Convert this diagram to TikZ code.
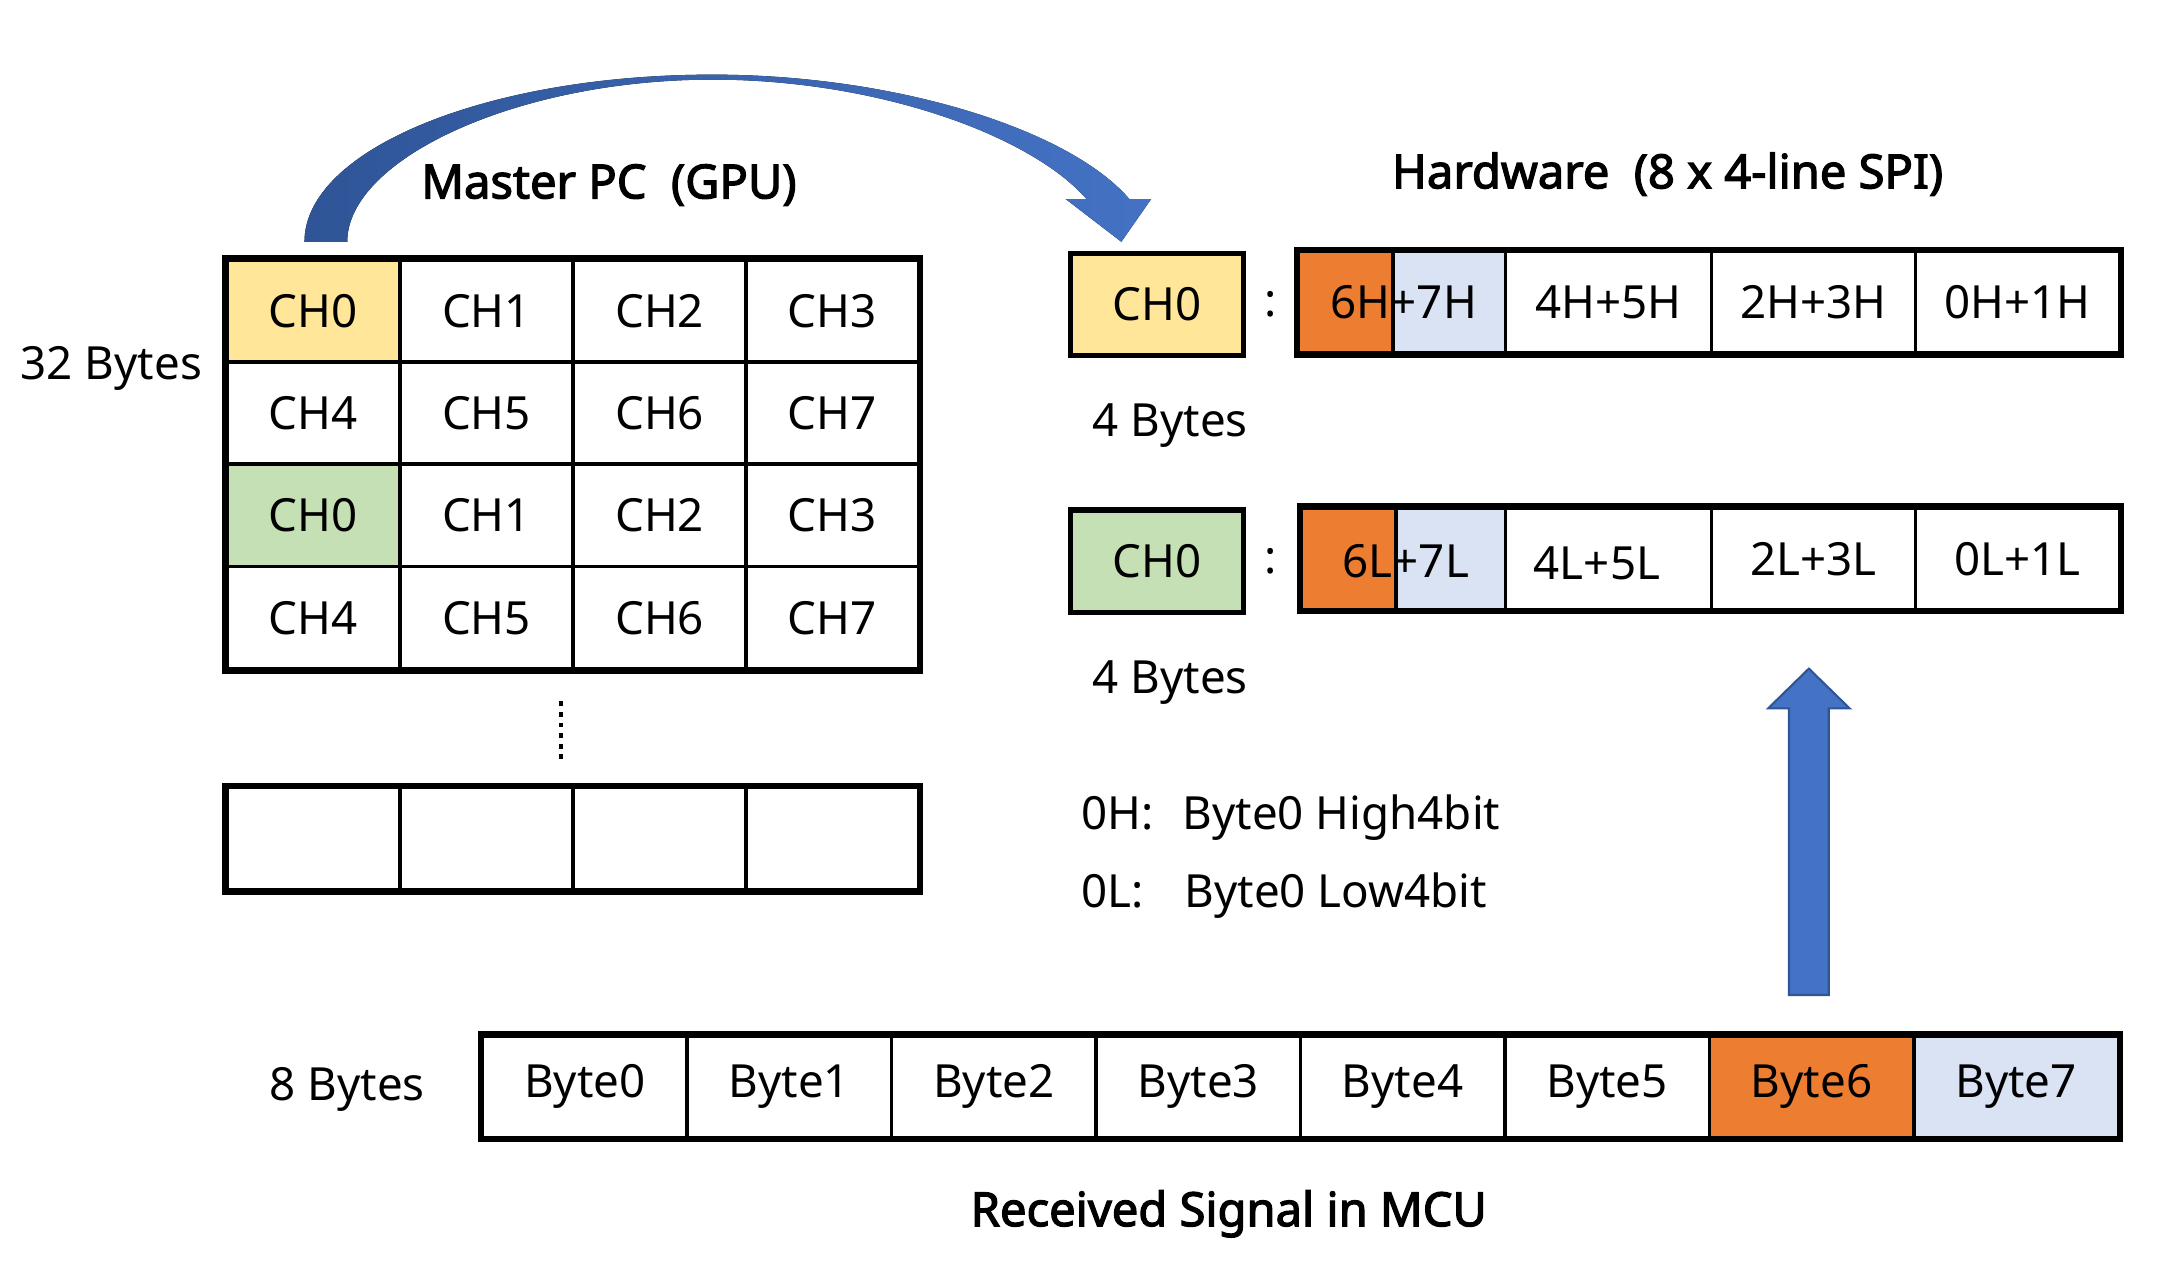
\documentclass[tikz,border=0pt]{standalone}
\usepackage{fontspec}
\setmainfont{Noto Sans}
\newfontfamily\titlefont{Noto Sans}[FakeBold=2.6]
\usepackage{tikz}

\definecolor{chyellow}{HTML}{FFE699}
\definecolor{chgreen}{HTML}{C5E0B4}
\definecolor{hiorange}{HTML}{ED7D31}
\definecolor{loblue}{HTML}{DAE3F3}
\definecolor{arrblue}{HTML}{4472C4}
\definecolor{arrdark}{HTML}{2F5597}

\tikzset{
  cell/.style={draw, line width=1pt, minimum width=1.73cm, minimum height=1.025cm, inner sep=0pt},
  spicell/.style={draw, line width=1pt, minimum height=1.015cm, inner sep=0pt},
  bytecell/.style={draw, line width=1pt, minimum width=2.045cm, minimum height=1.015cm, inner sep=0pt},
  frame/.style={line width=1.8pt},
  title/.style={font=\fontsize{13.4}{16}\titlefont},
}

\begin{document}
\begin{tikzpicture}[x=0.00995cm, y=-0.00995cm, font=\fontsize{13}{15}\selectfont]
      \useasboundingbox (0,0) rectangle (2190,1279);

      % master pc buffer
      \node[title] (mpc) at (612,186) {Master PC\ \ (GPU)};
      \node (b32) at (112,370) {32 Bytes};

      \node[cell, fill=chyellow] (g1) at (315,313) {CH0};
      \node[cell] (g2) at (489,313) {CH1};
      \node[cell] (g3) at (663,313) {CH2};
      \node[cell] (g4) at (836,313) {CH3};
      \node[cell] (g5) at (315,415) {CH4};
      \node[cell] (g6) at (489,415) {CH5};
      \node[cell] (g7) at (663,415) {CH6};
      \node[cell] (g8) at (836,415) {CH7};
      \node[cell, fill=chgreen] (g9) at (315,518) {CH0};
      \node[cell] (g10) at (489,518) {CH1};
      \node[cell] (g11) at (663,518) {CH2};
      \node[cell] (g12) at (836,518) {CH3};
      \node[cell] (g13) at (315,621) {CH4};
      \node[cell] (g14) at (489,621) {CH5};
      \node[cell] (g15) at (663,621) {CH6};
      \node[cell] (g16) at (836,621) {CH7};
      \draw[frame] (g1.north west) rectangle (g16.south east);

      \draw[line width=1.2pt, dash pattern=on 1.4pt off 1.6pt] (564,705) -- (564,768);

      \node[cell] (e1) at (315,843) {};
      \node[cell] (e2) at (489,843) {};
      \node[cell] (e3) at (663,843) {};
      \node[cell] (e4) at (836,843) {};
      \draw[frame] (e1.north west) rectangle (e4.south east);

      % transfer arrow
      \fill[left color=arrdark, right color=arrblue] (306,243) .. controls (306,150) and (490,75) .. (716,75)
            .. controls (900,75) and (1075,130) .. (1135,200) -- (1157,200) -- (1127,243) -- (1071,200) -- (1092,200)
            .. controls (1035,135) and (880,80) .. (716,80) .. controls (520,80) and (349,160) .. (349,243) -- cycle;

      % hardware spi
      \node[title] (hw) at (1676,175) {Hardware\ \ (8 x 4-line SPI)};

      \node[cell, line width=1.5pt, fill=chyellow] (ch0h) at (1163,306) {CH0};
      \node (c1) at (1277,306) {:};
      \node[spicell, minimum width=0.945cm, fill=hiorange] (h1) at (1352.5,304) {};
      \node[spicell, minimum width=1.125cm, fill=loblue] (h2) at (1456.5,304) {};
      \node[spicell, minimum width=2.06cm] (h3) at (1616.5,304) {4H+5H};
      \node[spicell, minimum width=2.04cm] (h4) at (1822.5,304) {2H+3H};
      \node[spicell, minimum width=2.04cm] (h5) at (2027.5,304) {0H+1H};
      \node (h12) at (1411,304) {6H+7H};
      \draw[frame] (h1.north west) rectangle (h5.south east);
      \node (by1) at (1176,428) {4 Bytes};

      \node[cell, line width=1.5pt, fill=chgreen] (ch0l) at (1163,564) {CH0};
      \node (c2) at (1277,564) {:};
      \node[spicell, minimum width=0.945cm, fill=hiorange] (l1) at (1355.5,561.5) {};
      \node[spicell, minimum width=1.095cm, fill=loblue] (l2) at (1458,561.5) {};
      \node[spicell, minimum width=2.06cm] (l3) at (1616.5,561.5) {};
      \node[spicell, minimum width=2.04cm] (l4) at (1822.5,561.5) {2L+3L};
      \node[spicell, minimum width=2.04cm] (l5) at (2027.5,561.5) {0L+1L};
      \node (l12) at (1413,564) {6L+7L};
      \node (l34) at (1605,566) {4L+5L};
      \draw[frame] (l1.north west) rectangle (l5.south east);
      \node (by2) at (1176,686) {4 Bytes};

      \node[anchor=base west] (k1) at (1074,834) {0H:};
      \node[anchor=base west] (v1) at (1176,834) {Byte0 High4bit};
      \node[anchor=base west] (k2) at (1074,912) {0L:};
      \node[anchor=base west] (v2) at (1178,912) {Byte0 Low4bit};

      \fill[arrblue, draw=arrdark, line width=0.6pt] (1798,1000) -- (1798,712) -- (1777,712) -- (1818,672)
            -- (1859,712) -- (1838,712) -- (1838,1000) -- cycle;

      % mcu bytes
      \node (b8) at (349,1095) {8 Bytes};
      \node[bytecell] (b0) at (587.75,1092) {Byte0};
      \node[bytecell] (b1) at (793.25,1092) {Byte1};
      \node[bytecell] (b2) at (998.75,1092) {Byte2};
      \node[bytecell] (b3) at (1204.25,1092) {Byte3};
      \node[bytecell] (b4) at (1409.75,1092) {Byte4};
      \node[bytecell] (b5) at (1615.25,1092) {Byte5};
      \node[bytecell, fill=hiorange] (b6) at (1820.75,1092) {Byte6};
      \node[bytecell, fill=loblue] (b7) at (2026.25,1092) {Byte7};
      \draw[frame] (b0.north west) rectangle (b7.south east);

      \node[title] (mcu) at (1235,1220) {Received Signal in MCU};
    \end{tikzpicture}
\end{document}
